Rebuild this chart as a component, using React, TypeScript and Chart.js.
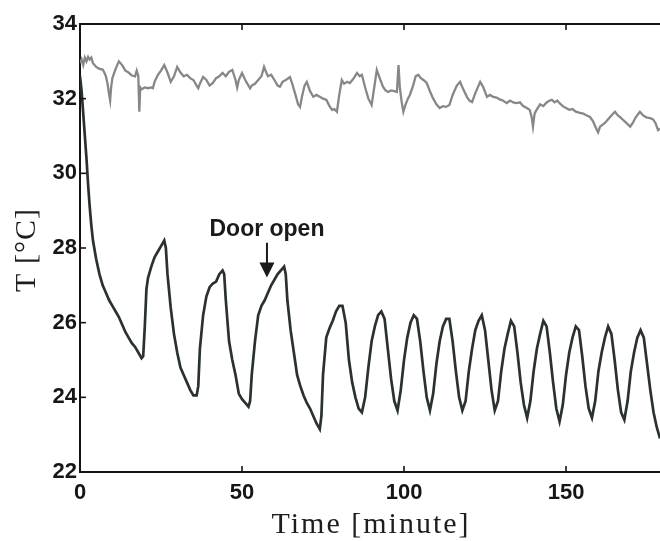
import React, { useEffect, useRef } from "react";
import { Chart, registerables } from "chart.js";

Chart.register(...registerables);

// Lower (dark) series: time [minute] and temperature [°C]
const darkTime = [
  0, 0.5, 1, 1.5, 2, 2.5, 3, 3.5, 4, 5, 6, 7, 8, 9, 10, 11, 12, 13, 14, 15, 16, 17, 18, 19, 19.5,
  20, 20.5, 21, 22, 23, 24, 25, 26, 26.5, 27, 28, 29, 30, 31, 32, 33, 34, 35, 36, 36.5,
  37, 38, 39, 40, 41, 42, 43, 44, 44.5, 45, 46, 47, 48, 49, 50, 51, 52, 52.5,
  53, 54, 55, 56, 57, 58, 59, 60, 61, 62, 63, 63.5, 64, 65, 66, 67, 68, 69, 70, 71, 72, 73, 74, 74.5,
  75, 76, 77, 78, 79, 80, 81, 82, 83, 84, 85, 86, 87, 88, 89, 90, 91, 92, 93, 94, 95, 96, 97, 98,
  99, 100, 101, 102, 103, 104, 105, 106, 107, 108, 109, 110, 111, 112, 113, 114, 115, 116, 117, 118,
  119, 120, 121, 122, 123, 124, 125, 126, 127, 128, 129, 130, 131, 132, 133, 134, 135, 136, 137, 138,
  139, 140, 141, 142, 143, 144, 145, 146, 147, 148, 149, 150, 151, 152, 153, 154, 155, 156, 157, 158,
  159, 160, 161, 162, 163, 164, 165, 166, 167, 168, 169, 170, 171, 172, 173, 174, 175, 176, 177, 178, 179,
];
const darkTemp = [
  32.6, 32.2, 31.6, 31.0, 30.4, 29.7, 29.1, 28.6, 28.2, 27.7, 27.3, 27.0, 26.8, 26.6, 26.45, 26.3, 26.15, 25.95, 25.75, 25.6, 25.45, 25.35, 25.2, 25.05, 25.1,
  25.9, 26.9, 27.2, 27.5, 27.75, 27.9, 28.05, 28.2, 28.0, 27.3, 26.4, 25.7, 25.2, 24.8, 24.6, 24.4, 24.2, 24.05, 24.05, 24.3,
  25.3, 26.2, 26.7, 26.95, 27.05, 27.1, 27.3, 27.4, 27.3, 26.6, 25.5, 25.0, 24.6, 24.1, 23.95, 23.85, 23.75, 23.9,
  24.6, 25.5, 26.2, 26.45, 26.6, 26.8, 27.0, 27.15, 27.3, 27.4, 27.5, 27.3, 26.6, 25.8, 25.2, 24.6, 24.3, 24.05, 23.85, 23.7, 23.5, 23.3, 23.15, 23.5,
  24.6, 25.6, 25.85, 26.05, 26.3, 26.45, 26.45, 26.0, 25.0, 24.4, 24.0, 23.7, 23.6, 24.0, 24.8, 25.5, 25.9, 26.2, 26.3, 26.1, 25.3, 24.5, 23.9, 23.65,
  24.2, 25.0, 25.6, 26.0, 26.2, 26.1, 25.5, 24.7, 24.0, 23.65, 24.1, 24.9, 25.5, 25.9, 26.1, 26.1, 25.5, 24.7, 24.0, 23.65,
  23.9, 24.7, 25.3, 25.8, 26.05, 26.2, 25.8, 25.0, 24.2, 23.65, 23.9, 24.7, 25.3, 25.7, 26.05, 25.9, 25.2, 24.4, 23.8, 23.45,
  23.9, 24.7, 25.3, 25.7, 26.05, 25.9, 25.2, 24.4, 23.7, 23.35, 23.8, 24.6, 25.2, 25.6, 25.9, 25.8, 25.1, 24.3, 23.7, 23.45,
  23.9, 24.7, 25.2, 25.6, 25.9, 25.7, 25.0, 24.2, 23.6, 23.4, 23.9, 24.7, 25.2, 25.6, 25.8, 25.6, 24.9, 24.2, 23.6, 23.2, 22.9,
];

// Upper (gray) series
const grayTime = [
  0, 0.5, 1, 1.5, 2, 2.5, 3, 3.5, 4, 5, 6, 7, 7.5, 8, 8.5, 9, 9.3, 9.6, 10, 11, 12, 13, 14, 15, 16, 17, 17.5, 18, 18.3, 18.6,
  19, 20, 21, 22, 22.5, 23, 24, 25, 26, 27, 28, 29, 30, 31, 32, 33, 34, 35, 36, 36.5, 37, 38, 39, 40, 41, 42, 43, 44, 45, 46,
  47, 48, 48.5, 49, 50, 51, 52, 52.5, 53, 54, 55, 56, 56.8, 57.5, 58, 59, 60, 61, 61.7, 62.5, 63.5, 64.8, 65.5, 66.5, 67.3, 67.9,
  68.5, 69.3, 70, 71, 72, 73, 74, 75, 76, 77, 77.8, 78.5, 79.3, 80, 80.8, 81.5, 82.5, 83.3, 84.5, 85.5, 86.3, 87, 88, 89, 90,
  90.8, 91.6, 92.5, 93.5, 94.3, 95.1, 96, 97, 97.8, 98.3, 98.7, 99.3, 99.8, 100.5, 101.2, 101.8, 102.8, 103.6, 104.4, 105.2,
  106, 107, 108, 109, 110, 111, 112, 113, 114, 115, 116.3, 117.3, 118.3, 119.4, 120.2, 121, 122, 123, 123.5, 124.5, 125.6,
  126.5, 127.5, 128.6, 129.5, 130.5, 131.7, 132.7, 133.7, 134.8, 135.8, 136.8, 137.9, 138.8, 139.4, 139.8, 140.3, 140.9, 142,
  143, 144, 145, 145.6, 146.5, 147.3, 148, 149, 150, 151, 152, 153, 154.3, 155.3, 156.4, 157.4, 158.3, 159.3, 159.9, 160.5,
  161.2, 162, 163, 164, 165.1, 166, 166.8, 167.6, 168.6, 169.8, 170.6, 171.5, 172.8, 173.8, 174.8, 175.9, 176.8, 177.6, 178.4, 179,
];
const grayTemp = [
  32.95, 33.05, 32.9, 33.1, 33.0, 33.12, 33.05, 33.1, 32.95, 32.85, 32.8, 32.78, 32.7, 32.6, 32.4, 32.1, 31.95, 32.3, 32.55, 32.8, 33.0, 32.9, 32.75, 32.7, 32.62, 32.6, 32.75, 32.6, 31.65, 32.3,
  32.25, 32.3, 32.28, 32.3, 32.28, 32.45, 32.63, 32.75, 32.9, 32.7, 32.45, 32.6, 32.85, 32.7, 32.6, 32.64, 32.55, 32.5, 32.35, 32.28, 32.4, 32.58, 32.5, 32.35, 32.42, 32.55, 32.6, 32.69, 32.6, 32.72,
  32.77, 32.5, 32.3, 32.5, 32.69, 32.5, 32.35, 32.28, 32.35, 32.4, 32.5, 32.6, 32.85, 32.7, 32.6, 32.64, 32.5, 32.35, 32.32, 32.45, 32.5, 32.58, 32.4, 32.1, 31.85, 31.78,
  32.05, 32.35, 32.45, 32.2, 32.05, 32.1, 32.05, 32.0, 31.97, 31.8, 31.7, 31.72, 31.65, 32.1, 32.5, 32.4, 32.45, 32.42, 32.55, 32.69, 32.6, 32.64, 32.3, 32.0, 31.83,
  32.3, 32.77, 32.55, 32.32, 32.22, 32.18, 32.22, 32.2, 32.18, 32.9, 32.3, 31.9, 31.65, 31.85, 32.0, 32.1, 32.35, 32.6, 32.64, 32.55,
  32.5, 32.42, 32.2, 32.0, 31.85, 31.75, 31.8, 31.78, 31.83, 32.1, 32.35, 32.45, 32.25, 32.05, 31.95, 31.91, 32.15, 32.35, 32.45, 32.3, 32.05,
  32.1, 32.05, 32.03, 31.98, 31.95, 31.88, 31.95, 31.9, 31.88, 31.9, 31.8, 31.75, 31.7, 31.5, 31.25, 31.6, 31.7, 31.85,
  31.8, 31.9, 31.95, 31.97, 31.9, 31.95, 31.88, 31.8, 31.75, 31.7, 31.72, 31.65, 31.62, 31.6, 31.55, 31.51, 31.4, 31.2, 31.1, 31.25,
  31.3, 31.35, 31.45, 31.55, 31.65, 31.55, 31.5, 31.43, 31.35, 31.25, 31.35, 31.5, 31.65, 31.55, 31.5, 31.48, 31.45, 31.35, 31.16, 31.2,
];

const xTickValues = [0, 50, 100, 150];
const yTickValues = [22, 24, 26, 28, 30, 32, 34];

const xTitle = "Time [minute]";
const yTitle = "T [°C]";

const annotationText = "Door open";
const annotationTime = 57.7;
const annotationTextTemp = 28.5;
const arrowTopTemp = 28.14;
const arrowTipTemp = 27.21;

const tickFont = { family: "'Liberation Sans', Arial, sans-serif", size: 22, weight: "bold" as const };
const titleFontCss = "30px 'Liberation Serif', 'Times New Roman', serif";

const framePlugin = {
  id: "frameAndNotes",
  afterDraw(chart: any) {
    const { ctx, chartArea: a, scales } = chart;
    const x = scales.x;
    const y = scales.y;
    ctx.save();
    ctx.strokeStyle = "#141414";
    ctx.lineWidth = 2;
    ctx.beginPath();
    ctx.moveTo(a.left - 1, a.top);
    ctx.lineTo(a.right, a.top);
    ctx.stroke();
    ctx.lineWidth = 1.6;
    x.ticks.forEach((t: any) => {
      const px = x.getPixelForValue(t.value);
      if (px <= a.left + 2) return;
      ctx.beginPath();
      ctx.moveTo(px, a.bottom);
      ctx.lineTo(px, a.bottom - 6);
      ctx.moveTo(px, a.top);
      ctx.lineTo(px, a.top + 6);
      ctx.stroke();
    });
    y.ticks.forEach((t: any) => {
      const py = y.getPixelForValue(t.value);
      if (py <= a.top + 2 || py >= a.bottom - 2) return;
      ctx.beginPath();
      ctx.moveTo(a.left, py);
      ctx.lineTo(a.left + 6, py);
      ctx.stroke();
    });

    // axis titles
    ctx.fillStyle = "#1e1e1e";
    ctx.font = titleFontCss;
    ctx.textAlign = "center";
    ctx.textBaseline = "alphabetic";
    (ctx as any).letterSpacing = "2px";
    ctx.fillText(xTitle, (a.left + a.right) / 2 + 1, a.bottom + 61);
    ctx.save();
    (ctx as any).letterSpacing = "1px";
    ctx.translate(35, (a.top + a.bottom) / 2 + 2);
    ctx.rotate(-Math.PI / 2);
    ctx.fillText(yTitle, 0, 0);
    ctx.restore();
    (ctx as any).letterSpacing = "0px";

    // annotation
    const ax = x.getPixelForValue(annotationTime);
    const ty = y.getPixelForValue(annotationTextTemp);
    const topY = y.getPixelForValue(arrowTopTemp);
    const tipY = y.getPixelForValue(arrowTipTemp);
    ctx.fillStyle = "#1a1a1a";
    ctx.font = "bold 23px 'Liberation Sans', Arial, sans-serif";
    ctx.textAlign = "center";
    ctx.textBaseline = "middle";
    ctx.fillText(annotationText, ax, ty);
    ctx.strokeStyle = "#1a1a1a";
    ctx.lineWidth = 2;
    ctx.beginPath();
    ctx.moveTo(ax, topY);
    ctx.lineTo(ax, tipY - 12);
    ctx.stroke();
    ctx.beginPath();
    ctx.moveTo(ax - 7.5, tipY - 15);
    ctx.lineTo(ax + 7.5, tipY - 15);
    ctx.lineTo(ax, tipY);
    ctx.closePath();
    ctx.fill();
    ctx.restore();
  },
};

export default function App() {
  const ref = useRef<HTMLCanvasElement | null>(null);
  useEffect(() => {
    if (!ref.current) return;
    const chart = new Chart(ref.current, {
      type: "line",
      data: {
        datasets: [
          {
            data: grayTime.map((t, i) => ({ x: t, y: grayTemp[i] })),
            borderColor: "#878787",
            borderWidth: 2.3,
            pointRadius: 0,
            tension: 0,
          },
          {
            data: darkTime.map((t, i) => ({ x: t, y: darkTemp[i] })),
            borderColor: "#2a322e",
            borderWidth: 2.7,
            pointRadius: 0,
            tension: 0,
          },
        ],
      },
      options: {
        animation: false,
        responsive: false,
        maintainAspectRatio: false,
        layout: { padding: { top: 24, right: 0, left: 0, bottom: 0 } },
        plugins: { legend: { display: false }, tooltip: { enabled: false } },
        scales: {
          x: {
            type: "linear",
            min: 0,
            max: 179,
            afterFit: (s: any) => {
              s.height = 69;
            },
            afterBuildTicks: (s: any) => {
              s.ticks = xTickValues.map((v) => ({ value: v }));
            },
            ticks: { font: tickFont, color: "#161616", padding: 8, maxRotation: 0 },
            grid: { display: false, drawTicks: false },
            border: { display: true, width: 2, color: "#141414" },
            title: { display: false },
          },
          y: {
            type: "linear",
            min: 22,
            max: 34,
            afterFit: (s: any) => {
              s.width = 80;
            },
            afterBuildTicks: (s: any) => {
              s.ticks = yTickValues.map((v) => ({ value: v }));
            },
            ticks: { font: tickFont, color: "#161616", padding: 3 },
            grid: { display: false, drawTicks: false },
            border: { display: true, width: 2, color: "#141414" },
            title: { display: false },
          },
        },
      },
      plugins: [framePlugin],
    });
    return () => chart.destroy();
  }, []);
  return (
    <div style={{ position: "absolute", left: 0, top: 0, width: 660, height: 541, background: "#fff" }}>
      <canvas ref={ref} width={660} height={541} />
    </div>
  );
}
